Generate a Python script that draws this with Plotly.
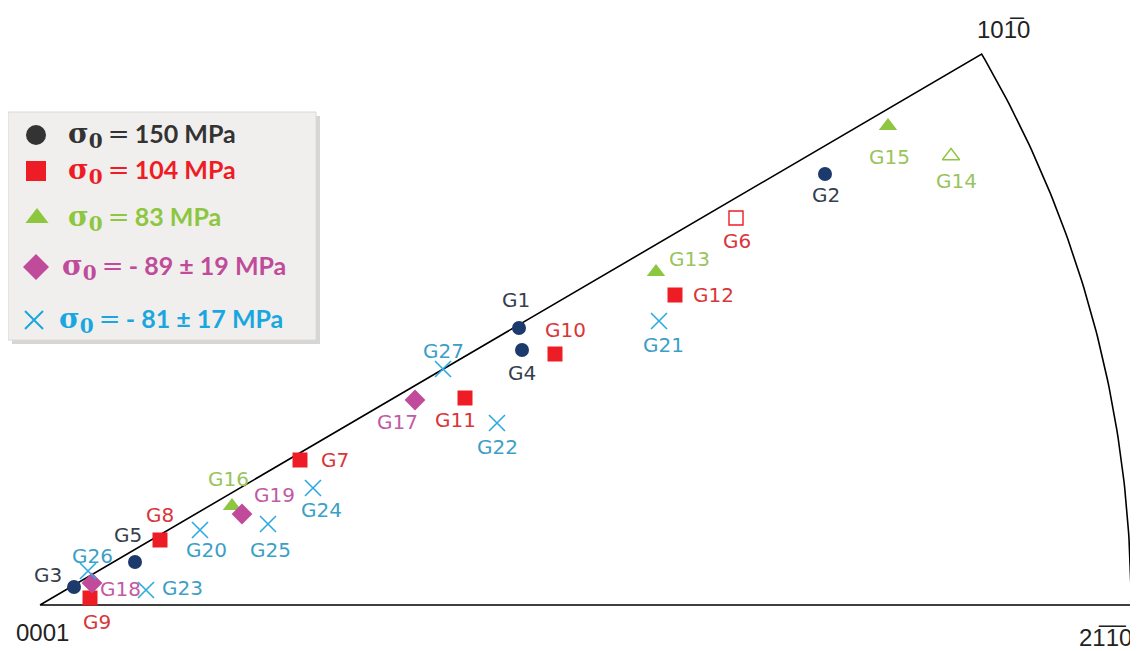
import numpy as np
import plotly.graph_objects as go

# ---- data (positions in the stereographic triangle, image units) ----
black_names = ["G1", "G2", "G3", "G4", "G5"]
black_x = [519, 825, 74, 522, 135]
black_y = [328, 174, 587, 350, 562]

red_names = ["G7", "G8", "G9", "G10", "G11", "G12"]
red_x = [300, 160, 90, 555, 465, 675]
red_y = [460, 540, 598, 354, 398, 295]

red_open_names = ["G6"]
red_open_x = [736]
red_open_y = [218]

green_names = ["G13", "G15", "G16"]
green_x = [656, 888, 232]
green_y = [272, 126, 506]

green_open_names = ["G14"]
green_open_x = [951]
green_open_y = [156]

mag_names = ["G17", "G18", "G19"]
mag_x = [415, 92, 242]
mag_y = [400, 583, 514]

cyan_names = ["G20", "G21", "G22", "G23", "G24", "G25", "G26", "G27"]
cyan_x = [200, 659, 497, 146, 313, 268, 88, 443]
cyan_y = [530, 321, 423, 590, 488, 524, 571, 369]

legend_labels = ["150 MPa", "104 MPa", "83 MPa", "- 89 ± 19 MPa", "- 81 ± 17 MPa"]

# label offsets (dx, dy) relative to the marker
label_off = {
    "G1": (-3, -28), "G2": (1, 21), "G3": (-26, -12), "G4": (0, 23), "G5": (-7, -27),
    "G6": (1, 23), "G7": (35, 0), "G8": (0, -25), "G9": (7, 24), "G10": (10, -24),
    "G11": (-10, 22), "G12": (38, 0), "G13": (33, -13), "G14": (5, 25), "G15": (1, 31),
    "G16": (-4, -27), "G17": (-18, 22), "G18": (28, 6), "G19": (32, -19), "G20": (6, 20),
    "G21": (4, 24), "G22": (0, 24), "G23": (36, -2), "G24": (8, 22), "G25": (2, 26),
    "G26": (4, -15), "G27": (0, -18),
}

OFF = 8  # browser default body margin

fig = go.Figure()

# ---- stereographic triangle outline ----
ox, oy = 40, 605
R = 1091
a0 = np.arctan2(oy - 55, 980 - ox)
ang = np.linspace(a0, 0, 80)
tri_x = [ox] + list(ox + R * np.cos(ang)) + [ox]
tri_y = [oy] + list(oy - R * np.sin(ang)) + [oy]
fig.add_trace(go.Scatter(x=tri_x, y=tri_y, mode="lines",
                         line=dict(color="black", width=1.6), hoverinfo="skip"))

C_BLACK = "#1c3a6b"
C_RED = "#ee1c25"
C_GREEN = "#8dc63f"
C_MAG = "#c04b9b"
C_CYAN = "#29abe2"

groups = [
    (black_names, black_x, black_y, "circle", C_BLACK, 14, "#36404e"),
    (red_names, red_x, red_y, "square", C_RED, 15, "#d9363b"),
    (red_open_names, red_open_x, red_open_y, "square-open", C_RED, 14, "#d9363b"),
    (green_names, green_x, green_y, "triangle-up", C_GREEN, 16, "#98c45c"),
    (green_open_names, green_open_x, green_open_y, "triangle-up-open", C_GREEN, 15, "#98c45c"),
    (mag_names, mag_x, mag_y, "diamond", C_MAG, 16, "#c25aa4"),
    (cyan_names, cyan_x, cyan_y, "x-thin", C_CYAN, 16, "#3c9fc6"),
]

for names, xs, ys, sym, col, size, lcol in groups:
    if sym == "x-thin":
        marker = dict(symbol=sym, size=size, line=dict(color=col, width=1.6))
    elif sym.endswith("-open"):
        marker = dict(symbol=sym, size=size, color=col, line=dict(color=col, width=1.4))
    else:
        marker = dict(symbol=sym, size=size, color=col, line=dict(width=0))
    fig.add_trace(go.Scatter(x=xs, y=ys, mode="markers", marker=marker,
                             text=names, hoverinfo="text"))
    for n, x, y in zip(names, xs, ys):
        dx, dy = label_off[n]
        fig.add_annotation(x=x, y=y, xshift=dx, yshift=-dy, text=n, showarrow=False,
                           font=dict(family="DejaVu Sans", size=20, color=lcol),
                           xanchor="center", yanchor="middle")

# ---- vertex labels ----
for txt, x, y in [("0001", 42, 632), ("10" + "1\u0305" + "0", 1003, 29),
                  ("2" + "1\u0305" + "1\u0305" + "0", 1105, 637)]:
    fig.add_annotation(x=x, y=y, text=txt, showarrow=False,
                       font=dict(family="Liberation Sans", size=24, color="#222222"),
                       xanchor="center", yanchor="middle")

# ---- legend box ----
fig.add_shape(type="rect", x0=12, y0=116, x1=320, y1=344, line=dict(width=0),
              fillcolor="rgba(0,0,0,0.16)", layer="below")
fig.add_shape(type="rect", x0=8, y0=112, x1=316, y1=340, line=dict(color="#dcd8d4", width=1),
              fillcolor="#f1efed", layer="below")

leg_cols = ["#333333", C_RED, C_GREEN, C_MAG, "#1aa7e0"]
leg_sym = ["circle", "square", "triangle-up", "diamond", "x-thin"]
leg_y = [135, 171, 218, 267, 320]
leg_mx = [36, 36, 37, 36, 34]
leg_tx = [66, 66, 66, 60, 57]
for lab, col, sym, y, mx, tx in zip(legend_labels, leg_cols, leg_sym, leg_y, leg_mx, leg_tx):
    if sym == "x-thin":
        marker = dict(symbol=sym, size=18, line=dict(color=col, width=2))
    else:
        marker = dict(symbol=sym, size=20, color=col, line=dict(width=0))
    fig.add_trace(go.Scatter(x=[mx], y=[y], mode="markers", marker=marker, hoverinfo="skip"))
    txt = ("<span style='font-family:DejaVu Serif;font-size:28px'>σ</span>"
           "<sub><span style='font-family:DejaVu Serif;font-size:20px'>0</span></sub>"
           "<span style='font-family:DejaVu Serif;font-size:26px;font-weight:normal'>\u2009=\u2009</span>"
           "<b>" + lab + "</b>")
    fig.add_annotation(x=tx, y=y, text=txt, showarrow=False,
                       font=dict(family="Lato", size=25, color=col, weight="bold"),
                       xanchor="left", yanchor="middle")

fig.update_layout(
    width=1138 - OFF, height=651 - OFF, showlegend=False,
    margin=dict(l=0, r=0, t=0, b=0),
    paper_bgcolor="white", plot_bgcolor="white",
    xaxis=dict(range=[OFF, 1138], visible=False, fixedrange=True),
    yaxis=dict(range=[651, OFF], visible=False, fixedrange=True),
)

fig.write_html("out.html")
